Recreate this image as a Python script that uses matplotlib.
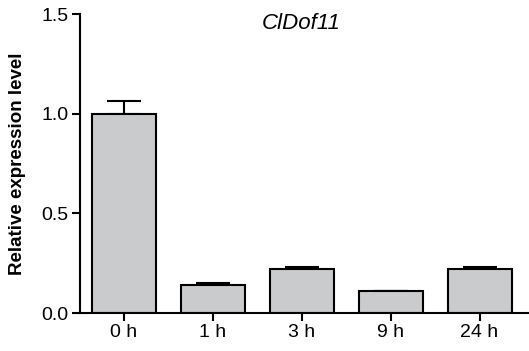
import matplotlib
matplotlib.use('Agg')
import matplotlib.pyplot as plt

plt.rcParams['font.family'] = ['Liberation Sans', 'DejaVu Sans']

labels = ['0 h', '1 h', '3 h', '9 h', '24 h']
values = [1.0, 0.14, 0.22, 0.11, 0.22]
errors = [0.065, 0.01, 0.01, 0.0, 0.01]

fig = plt.figure(figsize=(5.29, 3.51), dpi=100)
ax = fig.add_axes([0.151, 0.108, 0.848, 0.852])

x = range(len(labels))
ax.bar(x, values, width=0.72, color='#cacbcd', edgecolor='black', linewidth=1.5, zorder=2)
ax.errorbar(x, values, yerr=[[0] * len(errors), errors], fmt='none', ecolor='black',
            elinewidth=1.5, capsize=12, capthick=1.5, zorder=1)

ax.set_xlim(-0.494, 4.55)
ax.set_ylim(0, 1.5)
ax.set_yticks([0.0, 0.5, 1.0, 1.5])
ax.set_yticklabels(['0.0', '0.5', '1.0', '1.5'])
ax.set_xticks(list(x))
ax.set_xticklabels(labels)

for side in ['top', 'right']:
    ax.spines[side].set_visible(False)
for side in ['left', 'bottom']:
    ax.spines[side].set_linewidth(1.5)
ax.tick_params(axis='both', direction='out', length=6, width=1.5, labelsize=14, pad=2)

ax.set_ylabel('Relative expression level', fontsize=13.5, fontweight='bold', labelpad=11)
ax.text(2.0, 1.505, 'ClDof11', fontsize=16, style='italic', ha='center', va='top')

fig.savefig('out.png', dpi=100)
